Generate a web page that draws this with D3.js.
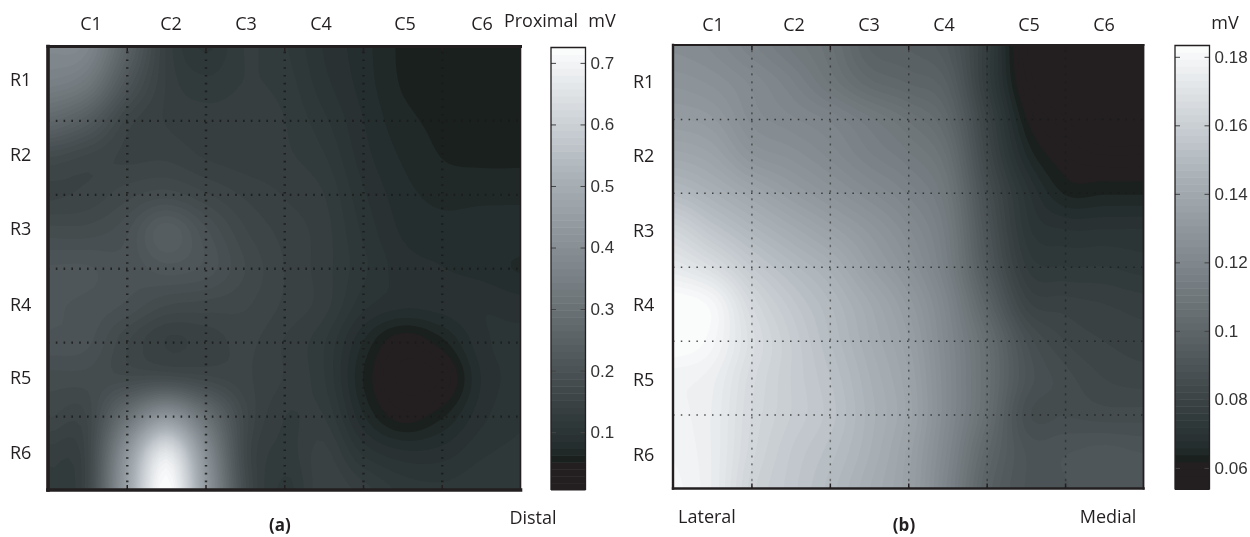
<!DOCTYPE html>
<html>
<head>
<meta charset="UTF-8">
<title>Potential maps</title>
<script src="https://d3js.org/d3.v7.min.js"></script>
<style>
    html, body {margin: 0; padding: 0; background: white;}
    svg {display: block;}
    text {font-family: "Open Sans", sans-serif; font-size: 18px; fill: #231f20;}
    .cbar text {font-family: "Liberation Sans", sans-serif; font-size: 17px; fill: #333;}
    .grid line {stroke: #1a1a1a;}
    .domain {display: none;}
</style>
</head>
<body>
<div id="chart"></div>
<script>
    var colNames = ["C1", "C2", "C3", "C4", "C5", "C6"];
    var rowNames = ["R1", "R2", "R3", "R4", "R5", "R6"];

    // mV, 13 x 13 nodes (every half electrode), top row first
    var valuesA = [
        [.38,.37,.25,.14,.105,.13,.12,.095,.078,.06,.06,.06,.06],
        [.35,.32,.21,.14,.122,.13,.125,.10,.08,.061,.06,.06,.06],
        [.27,.23,.16,.14,.135,.135,.13,.11,.085,.066,.06,.06,.06],
        [.175,.16,.15,.15,.14,.135,.132,.12,.09,.072,.062,.06,.06],
        [.15,.155,.17,.18,.165,.15,.14,.13,.098,.078,.07,.07,.07],
        [.18,.18,.195,.24,.20,.165,.148,.135,.105,.083,.078,.08,.08],
        [.21,.21,.20,.215,.205,.175,.152,.135,.11,.09,.085,.08,.072],
        [.21,.205,.195,.175,.17,.165,.15,.135,.10,.088,.09,.095,.09],
        [.205,.20,.165,.14,.145,.155,.14,.12,.073,.04,.058,.092,.10],
        [.18,.18,.18,.185,.17,.155,.14,.12,.062,.025,.03,.085,.10],
        [.165,.165,.30,.42,.30,.17,.13,.13,.075,.044,.06,.092,.105],
        [.135,.16,.42,.66,.40,.17,.125,.145,.105,.088,.09,.105,.11],
        [.125,.16,.46,.73,.44,.18,.115,.15,.135,.115,.11,.115,.115]
    ];
    var valuesB = [
        [.124,.122,.117,.112,.107,.098,.096,.092,.076,.056,.05,.05,.05],
        [.128,.126,.122,.117,.110,.103,.100,.096,.076,.058,.05,.05,.05],
        [.133,.131,.124,.121,.118,.113,.108,.101,.08,.062,.056,.05,.05],
        [.140,.137,.129,.126,.122,.117,.113,.106,.083,.066,.060,.058,.058],
        [.150,.145,.139,.133,.128,.123,.118,.110,.087,.071,.0635,.0635,.0635],
        [.163,.155,.148,.142,.136,.130,.123,.113,.090,.073,.07,.07,.07],
        [.173,.167,.157,.150,.144,.135,.127,.115,.093,.076,.074,.074,.073],
        [.184,.180,.165,.156,.149,.141,.132,.119,.099,.081,.079,.078,.077],
        [.184,.180,.168,.159,.151,.143,.135,.121,.105,.088,.082,.08,.079],
        [.178,.176,.166,.159,.153,.145,.137,.122,.106,.09,.085,.082,.081],
        [.178,.175,.165,.159,.154,.146,.138,.122,.105,.087,.086,.085,.085],
        [.179,.175,.164,.157,.152,.145,.136,.120,.101,.09,.09,.091,.09],
        [.180,.175,.162,.156,.150,.143,.135,.118,.098,.09,.09,.092,.092]
    ];
    var ticksA = [0.1, 0.2, 0.3, 0.4, 0.5, 0.6, 0.7];
    var ticksB = [0.06, 0.08, 0.1, 0.12, 0.14, 0.16, 0.18];
    var rangeA = [0.006, 0.725];
    var rangeB = [0.0537, 0.1833];

    var levels = 64, upsample = 6;

    // colormap, position along the bar -> colour
    var cmap = d3.scaleLinear()
        .domain([0, .06, .061, .079, .08, .1, .2, .3, .5, .7, .85, 1])
        .range(["#231f20", "#231f20", "#1a201e", "#1a201e", "#1f2726", "#252e2e", "#3a4244", "#52595c", "#7d858a", "#a8b0b6", "#d2d7db", "#fcfdfd"]);

    var svg = d3.select("#chart").append("svg")
        .attr("width", 1250)
        .attr("height", 537);

    // catmull-rom between the nodes, the original map is smoothed the same way
    function smooth(grid, k) {
        function cr(a, b, c, d, t) {
            return b + .5 * t * (c - a + t * (2 * a - 5 * b + 4 * c - d + t * (3 * (b - c) + d - a)));
        }
        var n = grid[0].length, m = grid.length;
        var w = (n - 1) * k + 1, h = (m - 1) * k + 1, out = new Array(w * h);
        for (var j = 0; j < h; j++) {
            var v = j / k, j1 = Math.min(Math.floor(v), m - 2), tv = v - j1;
            for (var i = 0; i < w; i++) {
                var u = i / k, i1 = Math.min(Math.floor(u), n - 2), tu = u - i1;
                var col = [];
                for (var r = -1; r <= 2; r++) {
                    var row = grid[Math.max(0, Math.min(m - 1, j1 + r))];
                    col.push(cr(row[Math.max(0, i1 - 1)], row[i1], row[i1 + 1], row[Math.min(n - 1, i1 + 2)], tu));
                }
                out[j * w + i] = cr(col[0], col[1], col[2], col[3], tv);
            }
        }
        return {w: w, h: h, values: out};
    }

    function drawMap(id, values, range, box) {
        var x = d3.scaleLinear().domain([0, 6]).range([box.x0, box.x1]);
        var y = d3.scaleLinear().domain([0, 6]).range([box.y0, box.y1]);
        var fine = smooth(values, upsample);
        var level = d3.scaleLinear().domain([0, levels]).range(range);

        svg.append("clipPath").attr("id", "clip" + id).append("rect")
            .attr("x", box.x0).attr("y", box.y0)
            .attr("width", box.x1 - box.x0).attr("height", box.y1 - box.y0);

        var g = svg.append("g").attr("clip-path", "url(#clip" + id + ")");
        g.append("rect")
            .attr("x", box.x0).attr("y", box.y0)
            .attr("width", box.x1 - box.x0).attr("height", box.y1 - box.y0)
            .attr("fill", cmap(0));

        var contours = d3.contours()
            .size([fine.w, fine.h])
            .thresholds(d3.range(1, levels).map(function(d) {return level(d)}))(fine.values);

        // d3 puts the grid nodes on the half pixel
        var sx = (box.x1 - box.x0) / (fine.w - 1), sy = (box.y1 - box.y0) / (fine.h - 1);
        g.append("g")
            .attr("transform", "translate(" + (box.x0 - .5 * sx) + "," + (box.y0 - .5 * sy) + ") scale(" + sx + "," + sy + ")")
            .selectAll("path")
            .data(contours)
            .enter().append("path")
            .attr("d", d3.geoPath())
            .attr("fill", function(d, i) {return cmap((i + 1.5) / levels)});

        // dotted grid on the electrode lines
        var inner = d3.range(1, 6);
        svg.append("g").attr("class", "grid")
            .attr("transform", "translate(0," + box.y1 + ")")
            .style("opacity", box.gridOpacity)
            .call(d3.axisBottom(x).tickValues(inner).tickSize(box.y0 - box.y1).tickFormat(""))
            .selectAll("line").attr("stroke-width", box.gridWidth).attr("stroke-dasharray", box.gridDash);
        svg.append("g").attr("class", "grid")
            .attr("transform", "translate(" + box.x0 + ",0)")
            .style("opacity", box.gridOpacity)
            .call(d3.axisLeft(y).tickValues(inner).tickSize(box.x0 - box.x1).tickFormat(""))
            .selectAll("line").attr("stroke-width", box.gridWidth).attr("stroke-dasharray", box.gridDash);

        // small inward ticks
        svg.append("g")
            .attr("transform", "translate(0," + box.y1 + ")")
            .call(d3.axisBottom(x).tickValues(inner).tickSize(-5).tickFormat(""))
            .selectAll("line").attr("stroke", "#231f20").attr("stroke-width", 1.5);
        svg.append("g")
            .attr("transform", "translate(0," + box.y0 + ")")
            .call(d3.axisTop(x).tickValues(inner).tickSize(-5).tickFormat(""))
            .selectAll("line").attr("stroke", "#231f20").attr("stroke-width", 1.5);

        // frame, left and bottom heavier
        var frame = [
            [box.x0, box.y0, box.x1, box.y0, box.top],
            [box.x1, box.y0, box.x1, box.y1, box.right],
            [box.x0, box.y0, box.x0, box.y1, box.left],
            [box.x0, box.y1, box.x1, box.y1, box.left]
        ];
        svg.selectAll(null).data(frame).enter().append("line")
            .attr("x1", function(d) {return d[0]})
            .attr("y1", function(d) {return d[1]})
            .attr("x2", function(d) {return d[2]})
            .attr("y2", function(d) {return d[3]})
            .attr("stroke", "#231f20")
            .attr("stroke-linecap", "square")
            .attr("stroke-width", function(d) {return d[4]});

        svg.selectAll(null).data(colNames).enter().append("text")
            .attr("x", function(d, i) {return box.colX[i]})
            .attr("y", box.colY)
            .attr("text-anchor", "middle")
            .attr("dy", ".36em")
            .text(function(d) {return d});
        svg.selectAll(null).data(rowNames).enter().append("text")
            .attr("x", box.rowX)
            .attr("y", function(d, i) {return box.rowY[i]})
            .attr("dy", ".36em")
            .text(function(d) {return d});
    }

    function drawBar(ticks, range, box) {
        var y = d3.scaleLinear().domain(range).range([box.y1, box.y0]);
        var g = svg.append("g").attr("class", "cbar");

        g.selectAll("rect").data(d3.range(levels)).enter().append("rect")
            .attr("x", box.x0)
            .attr("width", box.x1 - box.x0)
            .attr("y", function(d) {return y(range[0] + (range[1] - range[0]) * (d + 1) / levels)})
            .attr("height", (box.y1 - box.y0) / levels + .5)
            .attr("fill", function(d) {return cmap((d + .5) / levels)});

        var right = g.append("g")
            .attr("transform", "translate(" + box.x1 + ",0)")
            .call(d3.axisRight(y).tickValues(ticks).tickSize(-5).tickPadding(5).tickFormat(d3.format("~g")));
        right.selectAll("line").attr("stroke", "#444");
        var left = g.append("g")
            .attr("transform", "translate(" + box.x0 + ",0)")
            .call(d3.axisLeft(y).tickValues(ticks).tickSize(-5).tickFormat(""));
        left.selectAll("line").attr("stroke", "#444");

        g.append("path")
            .attr("d", "M" + box.x0 + "," + box.y1 + "V" + box.y0 + "H" + box.x1 + "V" + box.y1)
            .attr("fill", "none")
            .attr("stroke", "#231f20")
            .attr("stroke-width", 1.3);
    }

    function note(label, px, py, bold) {
        svg.append("text")
            .attr("x", px).attr("y", py)
            .attr("dy", ".36em")
            .attr("text-anchor", "middle")
            .style("font-weight", bold ? "bold" : "normal")
            .style("font-size", bold ? "17px" : null)
            .text(label);
    }

    drawMap("a", valuesA, rangeA, {
        x0: 48, x1: 520.5, y0: 46.5, y1: 490,
        top: 3, right: 1.6, left: 3.6, gridOpacity: .85, gridWidth: 2.4, gridDash: "1.6 6.2",
        colX: [91, 171, 246, 321, 405, 482], colY: 24,
        rowX: 10, rowY: [80, 155, 229, 305, 378, 453]
    });
    drawMap("b", valuesB, rangeB, {
        x0: 673, x1: 1143.5, y0: 45, y1: 488.5,
        top: 1.8, right: 1.8, left: 2.4, gridOpacity: .75, gridWidth: 1.5, gridDash: "1.5 6.3",
        colX: [713, 794, 869, 944, 1029, 1104], colY: 25,
        rowX: 633, rowY: [82, 156, 231, 305, 380, 455]
    });
    drawBar(ticksA, rangeA, {x0: 551, x1: 585.5, y0: 47.5, y1: 490});
    drawBar(ticksB, rangeB, {x0: 1175, x1: 1209.5, y0: 45.5, y1: 489.5});

    note("Proximal", 541, 21);
    note("mV", 602, 21);
    note("Distal", 533, 518);
    note("(a)", 280, 525, true);
    note("mV", 1225, 23);
    note("Lateral", 707, 517);
    note("Medial", 1108, 517);
    note("(b)", 904, 525, true);
</script>
</body>
</html>
